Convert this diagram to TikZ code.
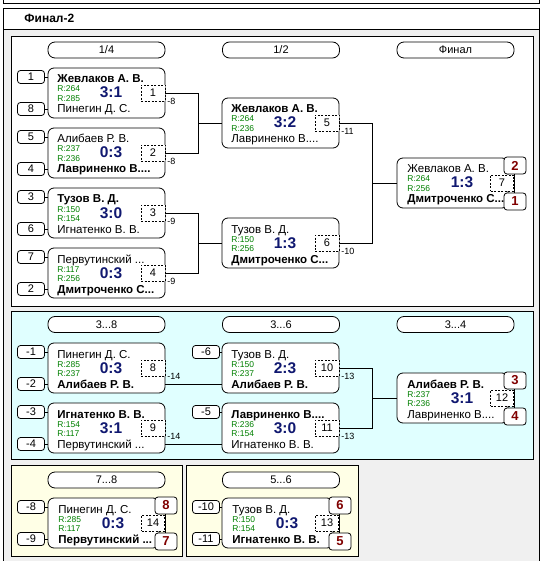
\documentclass[tikz,border=0pt]{standalone}
\usepackage{fontspec}
\setmainfont{Liberation Sans}
\usepackage{xcolor}
\usepackage{tikz}
\usetikzlibrary{calc, positioning}
\definecolor{ScoreBlue}{RGB}{16,24,112}
\definecolor{RatingGreen}{RGB}{0,128,0}
\definecolor{PlaceRed}{RGB}{128,0,0}
\definecolor{PanelGray}{RGB}{240,240,240}
\definecolor{PanelCyan}{RGB}{224,255,255}
\definecolor{PanelYellow}{RGB}{255,255,230}
\tikzset{
  % Riquadri del tabellone
  head/.style={draw,fill=white,rounded corners=7pt,minimum width=117pt,minimum height=16pt,inner sep=0pt,font=\fontsize{11}{13}\selectfont},
  match/.style={draw,fill=white,rounded corners=6pt,minimum width=117pt,minimum height=50pt,inner sep=0pt},
  match fin/.style={match,minimum width=111pt},
  seed/.style={draw,fill=white,rounded corners=3pt,minimum width=27pt,minimum height=13pt,inner sep=0pt,font=\fontsize{11}{13}\selectfont},
  numbox/.style={draw,dash pattern=on 2pt off 1.5pt,fill=white,minimum width=24pt,minimum height=16pt,inner sep=0pt,font=\fontsize{11}{13}\selectfont},
  place/.style={draw,fill=white,rounded corners=3pt,minimum width=22pt,minimum height=17pt,inner sep=0pt,text=PlaceRed,font=\bfseries\fontsize{13}{15}\selectfont},
  % Testi
  player/.style={anchor=base west,inner sep=0pt,font=\fontsize{11.5}{13}\selectfont},
  rating/.style={anchor=base west,inner sep=0pt,text=RatingGreen,font=\fontsize{8.5}{10}\selectfont},
  score/.style={anchor=base,inner sep=0pt,text=ScoreBlue,font=\bfseries\fontsize{15.5}{17}\selectfont},
  lbl/.style={anchor=west,inner sep=1.5pt,font=\fontsize{9}{10}\selectfont},
  % Collegamenti
  connect/.style={line width=0.8pt}
}
% partita: nome, x, y (angolo in alto a sinistra), giocatore 1, R1, R2, giocatore 2, punteggio, numero
\newcommand{\partita}[9]{%
  \begin{scope}[shift={(#2,#3)}]
    \node[match] (#1) at (58.5,25) {};
    \node[numbox] (#1n) at (105,25) {#9};
    \node[player] (#1a) at (9,15) {#4};
    \node[rating] (#1ra) at (9,24) {R:#5};
    \node[rating] (#1rb) at (9,33.5) {R:#6};
    \node[player] (#1b) at (9,45) {#7};
    \node[score] (#1s) at (63,30) {#8};
  \end{scope}}
% partita per i posti (riquadro piu' stretto)
\newcommand{\finale}[9]{%
  \begin{scope}[shift={(#2,#3)}]
    \node[match fin] (#1) at (55.5,25) {};
    \node[numbox,minimum width=23pt] (#1n) at (105,25) {#9};
    \node[player] (#1a) at (10,15) {#4};
    \node[rating] (#1ra) at (10,24) {R:#5};
    \node[rating] (#1rb) at (10,33.5) {R:#6};
    \node[player] (#1b) at (10,45) {#7};
    \node[score] (#1s) at (65,30) {#8};
  \end{scope}}

\begin{document}
\begin{tikzpicture}[x=1pt,y=-1pt,line width=0.8pt]
  \useasboundingbox (0,0) rectangle (542,561);
  % cornice esterna
  \draw (3,0) -- (3,3) -- (539,3) -- (539,0);
  \fill[PanelGray] (3,29) rectangle (539,561);
  \draw (3,561) -- (3,8) -- (539,8) -- (539,561);
  \draw (3,29) -- (539,29);
  \node[anchor=west,inner sep=0pt,font=\bfseries\fontsize{12}{14}\selectfont] (title) at (24,18.5) {Финал-2};
  % pannelli
  \draw[fill=white] (11,36) rectangle (533,306);
  \draw[fill=PanelCyan] (11,311) rectangle (533,459);
  \draw[fill=PanelYellow] (11,465) rectangle (182,556);
  \draw[fill=PanelYellow] (186,465) rectangle (358,556);
  % intestazioni
  \node[head] (h1) at (106.5,50) {1/4};
  \node[head] (h2) at (281,50) {1/2};
  \node[head] (h3) at (455.5,50) {Финал};
  \node[head] (h4) at (106.5,324.5) {3...8};
  \node[head] (h5) at (281,324.5) {3...6};
  \node[head] (h6) at (455.5,324.5) {3...4};
  \node[head] (h7) at (106.5,480) {7...8};
  \node[head] (h8) at (281,480) {5...6};

  % Tabellone principale
  \partita{m1}{48}{68}{\textbf{Жевлаков А. В.}}{264}{285}{Пинегин Д. С.}{3:1}{1}
  \partita{m2}{48}{128}{Алибаев Р. В.}{237}{236}{\textbf{Лавриненко В....}}{0:3}{2}
  \partita{m3}{48}{188}{\textbf{Тузов В. Д.}}{150}{154}{Игнатенко В. В.}{3:0}{3}
  \partita{m4}{48}{248}{Первутинский ...}{117}{256}{\textbf{Дмитроченко С...}}{0:3}{4}
  \partita{m5}{222}{98}{\textbf{Жевлаков А. В.}}{264}{236}{Лавриненко В....}{3:2}{5}
  \partita{m6}{222}{218}{Тузов В. Д.}{150}{256}{\textbf{Дмитроченко С...}}{1:3}{6}
  \finale{m7}{397}{158}{Жевлаков А. В.}{264}{256}{\textbf{Дмитроченко С...}}{1:3}{7}

  % Posti 3-8
  \partita{m8}{48}{343}{Пинегин Д. С.}{285}{237}{\textbf{Алибаев Р. В.}}{0:3}{8}
  \partita{m9}{48}{403}{\textbf{Игнатенко В. В.}}{154}{117}{Первутинский ...}{3:1}{9}
  \partita{m10}{222}{343}{Тузов В. Д.}{150}{237}{\textbf{Алибаев Р. В.}}{2:3}{10}
  \partita{m11}{222}{403}{\textbf{Лавриненко В....}}{236}{154}{Игнатенко В. В.}{3:0}{11}
  \finale{m12}{397}{373}{\textbf{Алибаев Р. В.}}{237}{236}{Лавриненко В....}{3:1}{12}

  % Posti 5-8
  \finale{m14}{48}{498}{Пинегин Д. С.}{285}{117}{\textbf{Первутинский ...}}{0:3}{14}
  \finale{m13}{222}{498}{Тузов В. Д.}{150}{154}{\textbf{Игнатенко В. В.}}{0:3}{13}

  % teste di serie
  \foreach \n/\x/\y/\t/\m in {1/31/77/1/m1, 8/31/109/8/m1, 5/31/137/5/m2, 4/31/169/4/m2,
      3/31/197/3/m3, 6/31/229/6/m3, 7/31/257/7/m4, 2/31/289/2/m4,
      a1/31/352/-1/m8, a2/31/384/-2/m8, a3/31/412/-3/m9, a4/31/444/-4/m9,
      a6/206/352/-6/m10, a5/206/412/-5/m11,
      a8/31/507/-8/m14, a9/31/539/-9/m14, a10/206/507/-10/m13, a11/206/539/-11/m13} {
    \node[seed] (s\n) at (\x,\y) {\t};
    \draw[connect] (s\n.east) -- (s\n -| \m.west);
  }

  % collegamenti
  \draw[connect] (m1.east) -- ++(33,0) |- (m5.west);
  \draw[connect] (m2.east) -- ++(33,0) |- (m5.west);
  \draw[connect] (m3.east) -- ++(33,0) |- (m6.west);
  \draw[connect] (m4.east) -- ++(33,0) |- (m6.west);
  \draw[connect] (m5.east) -- ++(33,0) |- (m7.west);
  \draw[connect] (m6.east) -- ++(33,0) |- (m7.west);
  \draw[connect] ([yshift=9pt]m8.south east) -- ([yshift=9pt]m10.south west);
  \draw[connect] ([yshift=9pt]m9.south east) -- ([yshift=9pt]m11.south west);
  \draw[connect] (m10.east) -- ++(33,0) |- (m12.west);
  \draw[connect] (m11.east) -- ++(33,0) |- (m12.west);
  \foreach \m/\t in {m1/-8, m2/-8, m3/-9, m4/-9, m5/-11, m6/-10, m8/-14, m9/-14, m10/-13, m11/-13}
    \node[lbl] (l\m) at (\m n.south east) {\t};

  % posti finali
  \foreach \n/\x/\y/\t in {p2/515/165.5/2, p1/515/201.5/1, p3/515/380.5/3, p4/515/416.5/4,
      p8/166/505.5/8, p7/166/541.5/7, p6/340/505.5/6, p5/340/541.5/5}
    \node[place] (\n) at (\x,\y) {\t};
  \draw[connect] (m7n.east |- p2.south) -- (m7n.east |- p1.north);
  \draw[connect] (m12n.east |- p3.south) -- (m12n.east |- p4.north);
  \draw[connect] (m14n.east |- p8.south) -- (m14n.east |- p7.north);
  \draw[connect] (m13n.east |- p6.south) -- (m13n.east |- p5.north);
\end{tikzpicture}
\end{document}
